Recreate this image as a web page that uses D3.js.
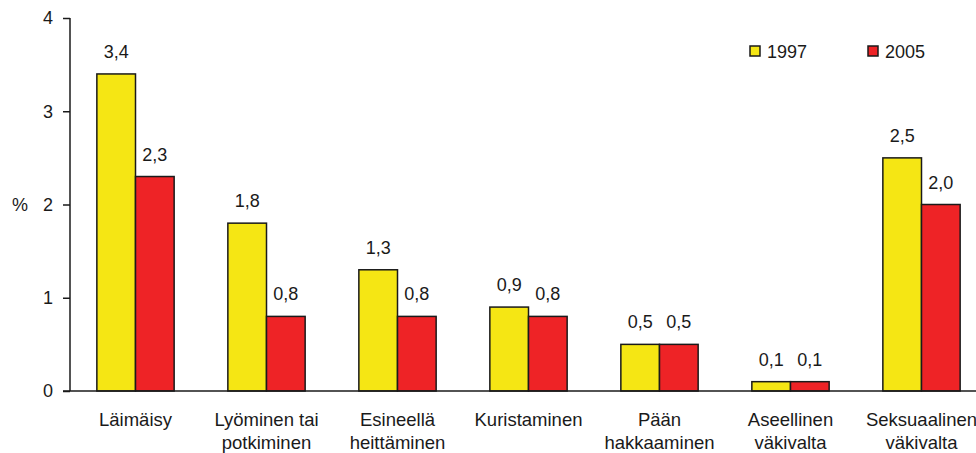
<!DOCTYPE html>
<html><head><meta charset="utf-8">
<script src="https://cdn.jsdelivr.net/npm/d3@7"></script>
<style>body{margin:0;background:#fff}svg{display:block}text{font-family:"Liberation Sans",Arial,sans-serif;fill:#1a1a1a}</style>
</head><body>
<svg id="c" width="976" height="453"></svg>
<script>
const categories = [["Läimäisy"],["Lyöminen tai","potkiminen"],["Esineellä","heittäminen"],["Kuristaminen"],["Pään","hakkaaminen"],["Aseellinen","väkivalta"],["Seksuaalinen","väkivalta"]];
const series = ["1997","2005"];
const values1997 = [3.4,1.8,1.3,0.9,0.5,0.1,2.5];
const values2005 = [2.3,0.8,0.8,0.8,0.5,0.1,2.0];
const yTicks = [0,1,2,3,4];
const colors = ["#f5e614","#ee2326"];

const svg = d3.select("#c");
const y = d3.scaleLinear().domain([0,4]).range([391,18]);
const x = d3.scaleBand().domain(d3.range(categories.length)).range([70,987]).paddingInner(0.41).paddingOuter(0.205);
const xs = d3.scaleBand().domain(series).range([0,x.bandwidth()]);
const data = [values1997, values2005];

const fmt = v => d3.format(".1f")(v).replace(".",",");

series.forEach((s,si)=>{
  svg.append("g").selectAll("rect").data(data[si]).join("rect")
    .attr("x",(d,i)=>x(i)+xs(s)).attr("y",d=>y(d))
    .attr("width",xs.bandwidth()).attr("height",d=>y(0)-y(d))
    .attr("fill",colors[si]).attr("stroke","#1a1a1a").attr("stroke-width",1.5);
  svg.append("g").selectAll("text").data(data[si]).join("text")
    .attr("x",(d,i)=>x(i)+xs(s)+xs.bandwidth()/2).attr("y",d=>y(d)-16)
    .attr("text-anchor","middle").attr("font-size",18).text(fmt);
});

// y axis
const ya = svg.append("g").attr("transform","translate(70,0)")
  .call(d3.axisLeft(y).tickValues(yTicks).tickSize(7).tickPadding(10).tickFormat(d3.format("d")));
ya.select(".domain").attr("d","M0,"+y(4)+"V"+y(0)).attr("stroke","#1a1a1a").attr("stroke-width",1.5);
ya.selectAll(".tick line").attr("stroke","#1a1a1a").attr("stroke-width",1.5);
ya.selectAll(".tick text").attr("font-size",18).attr("font-family","Liberation Sans, Arial, sans-serif").attr("fill","#1a1a1a");
// baseline
svg.append("line").attr("x1",63).attr("x2",976).attr("y1",y(0)).attr("y2",y(0)).attr("stroke","#1a1a1a").attr("stroke-width",1.5);

svg.append("text").attr("x",20).attr("y",y(2)+6).attr("text-anchor","middle").attr("font-size",18).text("%");

// category labels
const cl = svg.append("g").selectAll("text").data(categories).join("text")
  .attr("x",(d,i)=>x(i)+x.bandwidth()/2).attr("y",426).attr("text-anchor","middle").attr("font-size",18.5);
cl.selectAll("tspan").data(d=>d).join("tspan").attr("x",function(){return this.parentNode.getAttribute("x");})
  .attr("dy",(d,i)=>i?23:0).text(d=>d);

// legend
const legX = [750,868];
series.forEach((s,i)=>{
  svg.append("rect").attr("x",legX[i]).attr("y",46).attr("width",10).attr("height",10)
    .attr("fill",colors[i]).attr("stroke","#1a1a1a").attr("stroke-width",1.5);
  svg.append("text").attr("x",legX[i]+17).attr("y",58).attr("font-size",18).text(s);
});
</script>
</body></html>
